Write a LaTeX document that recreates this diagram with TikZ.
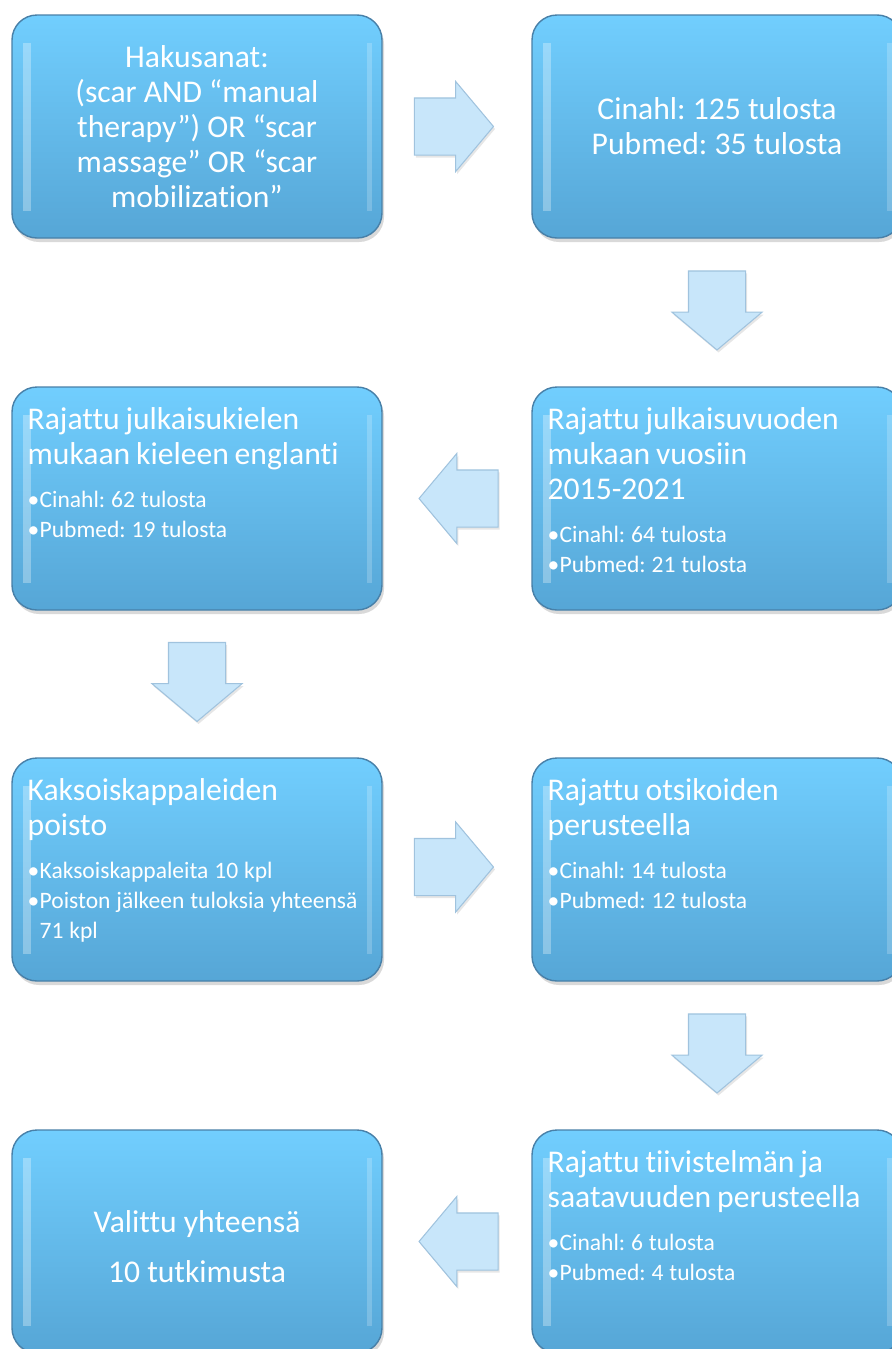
\documentclass[tikz,border=0pt]{standalone}
\usepackage{fontspec}
\setmainfont{Carlito}[Ligatures=NoCommon]
\usepackage{tikz}
\usetikzlibrary{shapes.arrows}
\usetikzlibrary{shadows,calc}
\frenchspacing

\newcommand{\stephead}[1]{{\fontsize{18}{19.9}\selectfont #1\par}}
\newcommand{\stepitem}[1]{{\fontsize{13.4}{17.1}\selectfont\makebox[0.24cm][l]{\textbullet}#1\par}}

\begin{document}
\begin{tikzpicture}[
  stepbox/.style={draw=boxLine, line width=0.8pt, rounded corners=0.5cm,
    top color=boxTop, bottom color=boxBottom, minimum width=7.4cm, minimum height=4.46cm,
    drop shadow={shadow xshift=0.04cm, shadow yshift=-0.08cm, opacity=0.3},
    path picture={
      \draw[white, opacity=0.3, line width=4pt] ([xshift=0.3cm,yshift=-0.55cm]path picture bounding box.north west) -- ([xshift=0.3cm,yshift=0.55cm]path picture bounding box.south west);
      \draw[white, opacity=0.2, line width=3pt] ([xshift=-0.25cm,yshift=-0.55cm]path picture bounding box.north east) -- ([xshift=-0.25cm,yshift=0.55cm]path picture bounding box.south east);
    }},
  steptext/.style={text=white, inner sep=0pt, text width=7.1cm, align=left, anchor=base west},
  midtext/.style={text=white, inner sep=0pt, align=center, font=\fontsize{18}{19.9}\selectfont},
  blockarrow/.style={single arrow, draw=arrowLine, fill=arrowFill, line width=0.6pt,
    inner xsep=0pt, inner ysep=0.56cm, minimum height=1.58cm,
    single arrow head extend=0.33cm, single arrow tip angle=100,
    drop shadow={shadow xshift=0.03cm, shadow yshift=-0.05cm, opacity=0.2}}
]
\definecolor{boxTop}{RGB}{113,206,254}
\definecolor{boxBottom}{RGB}{86,166,214}
\definecolor{boxLine}{RGB}{72,128,168}
\definecolor{arrowFill}{RGB}{200,230,250}
\definecolor{arrowLine}{RGB}{160,195,222}
\useasboundingbox (0,0) rectangle (17.84,-26.98);

\node[stepbox] (hakusanat) at (3.94,-2.53) {};
\node[stepbox] (tulokset) at (14.34,-2.53) {};
\node[stepbox] (kieli) at (3.94,-9.97) {};
\node[stepbox] (vuodet) at (14.34,-9.97) {};
\node[stepbox] (duplikaatit) at (3.94,-17.39) {};
\node[stepbox] (otsikot) at (14.34,-17.39) {};
\node[stepbox] (valitut) at (3.94,-24.83) {};
\node[stepbox] (tiivistelmat) at (14.34,-24.83) {};

\node[midtext] (hakusanatText) at (hakusanat) {Hakusanat:\\(scar AND “manual\\therapy”) OR “scar\\massage” OR “scar\\mobilization”};
\node[midtext] (tuloksetText) at (tulokset) {Cinahl: 125 tulosta\\Pubmed: 35 tulosta};
\node[steptext] (vuodetText) at ($(vuodet.north west)+(0.32,-0.86)$) {\stephead{Rajattu julkaisuvuoden\\mukaan vuosiin\\2015-2021}\vspace{7.3pt}\stepitem{Cinahl: 64 tulosta}\stepitem{Pubmed: 21 tulosta}};
\node[steptext] (kieliText) at ($(kieli.north west)+(0.32,-0.86)$) {\stephead{Rajattu julkaisukielen\\mukaan kieleen englanti}\vspace{7.3pt}\stepitem{Cinahl: 62 tulosta}\stepitem{Pubmed: 19 tulosta}};
\node[steptext] (duplikaatitText) at ($(duplikaatit.north west)+(0.32,-0.86)$) {\stephead{Kaksoiskappaleiden\\poisto}\vspace{7.3pt}\stepitem{Kaksoiskappaleita 10 kpl}\stepitem{Poiston jälkeen tuloksia yhteensä\\\hspace*{0.24cm}71 kpl}};
\node[steptext] (otsikotText) at ($(otsikot.north west)+(0.32,-0.86)$) {\stephead{Rajattu otsikoiden\\perusteella}\vspace{7.3pt}\stepitem{Cinahl: 14 tulosta}\stepitem{Pubmed: 12 tulosta}};
\node[steptext] (tiivistelmatText) at ($(tiivistelmat.north west)+(0.32,-0.86)$) {\stephead{Rajattu tiivistelmän ja\\saatavuuden perusteella}\vspace{7.3pt}\stepitem{Cinahl: 6 tulosta}\stepitem{Pubmed: 4 tulosta}};
\node[midtext, yshift=-0.1cm] (valitutText) at (valitut) {Valittu yhteensä\\[8.6pt]10 tutkimusta};

\node[blockarrow] (nuoli1) at ($(hakusanat.east)!0.5!(tulokset.west)+(-0.3,0)$) {};
\node[blockarrow, rotate=-90] (nuoli2) at ($(tulokset.south)!0.5!(vuodet.north)+(0,0.28)$) {};
\node[blockarrow, rotate=180] (nuoli3) at ($(kieli.east)!0.5!(vuodet.west)+(0.27,0)$) {};
\node[blockarrow, rotate=-90] (nuoli4) at ($(kieli.south)!0.5!(duplikaatit.north)+(0,0.28)$) {};
\node[blockarrow] (nuoli5) at ($(duplikaatit.east)!0.5!(otsikot.west)+(-0.3,0.05)$) {};
\node[blockarrow, rotate=-90] (nuoli6) at ($(otsikot.south)!0.5!(tiivistelmat.north)+(0,0.28)$) {};
\node[blockarrow, rotate=180] (nuoli7) at ($(valitut.east)!0.5!(tiivistelmat.west)+(0.27,0)$) {};
\end{tikzpicture}
\end{document}
